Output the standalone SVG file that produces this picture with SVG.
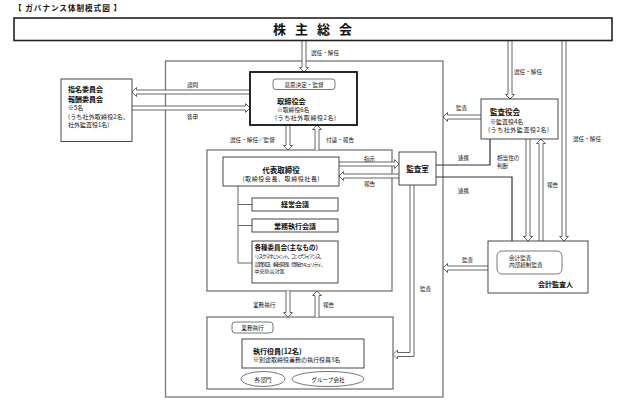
<svg xmlns="http://www.w3.org/2000/svg" width="624" height="401" viewBox="0 0 624 401">
<style>
text{font-family:"Noto Sans CJK JP","Noto Sans CJK SC",sans-serif;fill:#111}
.s{font-size:5.6px}
.m{font-size:6px}
.b{font-size:7px;font-weight:bold}
.box{fill:#fff;stroke:#333;stroke-width:0.9}
.cont{fill:none;stroke:#777;stroke-width:1.3}
.arr{fill:#fff;stroke:#555;stroke-width:0.9;stroke-linejoin:miter}
.ln{fill:none;stroke:#333;stroke-width:1.2}
.tr{fill:none;stroke:#666;stroke-width:1}
</style>
<rect width="624" height="401" fill="#fff"/>
<text x="14" y="10.5" style="font-size:7.6px;font-weight:bold" textLength="107">【 ガバナンス体制模式図 】</text>

<g id="containers">
<rect class="cont" x="165.5" y="61" width="277.5" height="336"/>
<rect class="cont" x="207" y="150" width="185" height="141"/>
<rect class="cont" x="207" y="317" width="186" height="72"/>
</g>

<g id="connectors">
<polyline class="arr" points="302,41 302,67.5 299.5,67.5 304,72 308.5,67.5 306,67.5 306,41"/>
<polyline class="arr" points="508,41 508,94.5 505.5,94.5 510,99 514.5,94.5 512,94.5 512,41"/>
<polyline class="arr" points="562,41 562,236.5 559.5,236.5 564,241 568.5,236.5 566,236.5 566,41"/>
<polyline class="arr" points="250,90 136.5,90 136.5,87.5 132,92 136.5,96.5 136.5,94 250,94"/>
<polyline class="arr" points="132,106 245.5,106 245.5,103.5 250,108 245.5,112.5 245.5,110 132,110"/>
<polyline class="arr" points="286,125 286,145.5 283.5,145.5 288,150 292.5,145.5 290,145.5 290,125"/>
<polyline class="arr" points="315,150 315,129.5 312.5,129.5 317,125 321.5,129.5 319,129.5 319,150"/>
<polyline class="arr" points="339,162 394.5,162 394.5,159.5 399,164 394.5,168.5 394.5,166 339,166"/>
<polyline class="arr" points="399,174 343.5,174 343.5,171.5 339,176 343.5,180.5 343.5,178 399,178"/>
<polyline class="arr" points="481,115 447.5,115 447.5,112.5 443,117 447.5,121.5 447.5,119 481,119"/>
<polyline class="arr" points="488,266 447.5,266 447.5,263.5 443,268 447.5,272.5 447.5,270 488,270"/>
<polyline class="arr" points="526,139 526,236.5 523.5,236.5 528,241 532.5,236.5 530,236.5 530,139"/>
<polyline class="arr" points="539,241 539,143.5 536.5,143.5 541,139 545.5,143.5 543,143.5 543,241"/>
<polyline class="arr" points="286,291 286,312.5 283.5,312.5 288,317 292.5,312.5 290,312.5 290,291"/>
<polyline class="arr" points="315,317 315,295.5 312.5,295.5 317,291 321.5,295.5 319,295.5 319,317"/>
<polyline class="arr" points="410,185 410,352.5 397.5,352.5 397.5,350 393,354.5 397.5,359 397.5,356.5 414,356.5 414,185"/>
<path class="ln" d="M436,165 H490 V139"/>
<path class="ln" d="M436,177 H512 V241"/>
<path class="tr" d="M238,186 V263 H252 M238,204.5 H252 M238,225.5 H252"/>
</g>

<g id="labels">
<text class="s" x="311" y="54.5">選任・解任</text>
<text class="s" x="187" y="87">諮問</text>
<text class="s" x="187" y="119">答申</text>
<text class="s" x="230" y="141.5">選任・解任／監督</text>
<text class="s" x="326" y="141.5">付議・報告</text>
<text class="s" x="364" y="161">指示</text>
<text class="s" x="364" y="185.5">報告</text>
<text class="s" x="514" y="73.5">選任・解任</text>
<text class="s" x="573" y="140.5">選任・解任</text>
<text class="s" x="456" y="110">監査</text>
<text class="s" x="458" y="159.5">連携</text>
<text class="s" x="458" y="192.5">連携</text>
<text class="s" x="497" y="159.5">相当性の</text>
<text class="s" x="497" y="168">判断</text>
<text class="s" x="547" y="186.5">報告</text>
<text class="s" x="462" y="261.5">監査</text>
<text class="s" x="420" y="291">監査</text>
<text class="s" x="253" y="307">業務執行</text>
<text class="s" x="323" y="307">報告</text>
</g>

<g id="shareholders">
<rect x="14" y="18" width="598" height="22.5" fill="#fff" stroke="#222" stroke-width="1.6"/>
<text x="312.5" y="34" text-anchor="middle" style="font-size:13px;font-weight:bold" textLength="79">株 主 総 会</text>
</g>

<g id="nomination">
<rect class="box" x="61" y="79" width="71" height="62.5"/>
<text class="b" x="68" y="91.5">指名委員会</text>
<text class="b" x="68" y="101.5">報酬委員会</text>
<text class="m" x="68" y="110">※5名</text>
<text class="m" x="68" y="119" textLength="61">(うち社外取締役2名、</text>
<text class="m" x="68" y="126.5">社外監査役1名)</text>
</g>

<g id="board">
<rect x="250" y="72" width="107" height="53" fill="#fff" stroke="#111" stroke-width="1.8"/>
<rect x="273" y="79" width="62" height="10.5" rx="3" fill="#fff" stroke="#555" stroke-width="0.8"/>
<text class="s" x="304" y="86.8" text-anchor="middle">意思決定・監督</text>
<text class="b" x="277" y="103.5" style="font-size:7.2px">取締役会</text>
<text class="m" x="277" y="111.5" style="font-size:5.8px">※取締役6名</text>
<text class="m" x="275" y="119.5" textLength="61">(うち社外取締役2名)</text>
</g>

<g id="representative">
<rect class="box" x="223" y="157" width="116" height="29"/>
<text class="b" x="281" y="172.5" text-anchor="middle" style="font-size:7.5px">代表取締役</text>
<text class="m" x="281" y="181" text-anchor="middle" textLength="77">(取締役会長、取締役社長)</text>
</g>

<g id="management-meeting">
<rect class="box" x="252" y="198" width="86" height="13"/>
<text class="b" x="295" y="207" text-anchor="middle">経営会議</text>
</g>

<g id="execution-meeting">
<rect class="box" x="252" y="219" width="86" height="13"/>
<text class="b" x="295" y="228.5" text-anchor="middle">業務執行会議</text>
</g>

<g id="committees">
<rect class="box" x="252" y="241" width="86" height="42"/>
<text class="b" x="254.5" y="249.5" style="font-size:6.5px">各種委員会(主なもの)</text>
<text x="254.5" y="258" style="font-size:5px" textLength="70">リスクマネジメント、コンプライアンス、</text>
<text x="254.5" y="265.5" style="font-size:5px" textLength="71">品質保証、輸出管理、情報セキュリティ、</text>
<text x="254.5" y="272.8" style="font-size:5px">中央防災対策</text>
</g>

<g id="audit-office">
<rect class="box" x="399" y="152" width="37" height="33"/>
<text class="b" x="417.5" y="172" text-anchor="middle" style="font-size:7.5px">監査室</text>
</g>

<g id="audit-board">
<rect class="box" x="481" y="99" width="77" height="40"/>
<text class="b" x="490" y="114.5" style="font-size:7.5px">監査役会</text>
<text class="m" x="490" y="123.5">※監査役4名</text>
<text class="m" x="488" y="131.5" textLength="61">(うち社外監査役2名)</text>
</g>

<g id="accounting-auditor">
<rect class="box" x="488" y="241" width="100" height="52"/>
<rect x="497" y="251" width="65" height="23" rx="5" fill="#fff" stroke="#555" stroke-width="0.8"/>
<text class="s" x="509" y="259.5">会計監査</text>
<text class="s" x="509" y="267">内部統制監査</text>
<text class="b" x="538" y="287">会計監査人</text>
</g>

<g id="executive-officers">
<rect x="232" y="322" width="41" height="11" rx="3" fill="#fff" stroke="#555" stroke-width="0.8"/>
<text class="s" x="252.5" y="330" text-anchor="middle">業務執行</text>
<rect class="box" x="242" y="339" width="122" height="29"/>
<text class="b" x="253" y="354">執行役員(12名)</text>
<text class="m" x="253" y="361.5">※別途取締役兼務の執行役員3名</text>
</g>

<g id="departments">
<ellipse cx="263" cy="379" rx="22" ry="7.5" fill="#fff" stroke="#555" stroke-width="0.8"/>
<text class="s" x="263" y="381.5" text-anchor="middle">各部門</text>
</g>

<g id="group-companies">
<ellipse cx="328" cy="379" rx="36" ry="7.5" fill="#fff" stroke="#555" stroke-width="0.8"/>
<text class="s" x="328" y="381.5" text-anchor="middle">グループ会社</text>
</g>
</svg>
